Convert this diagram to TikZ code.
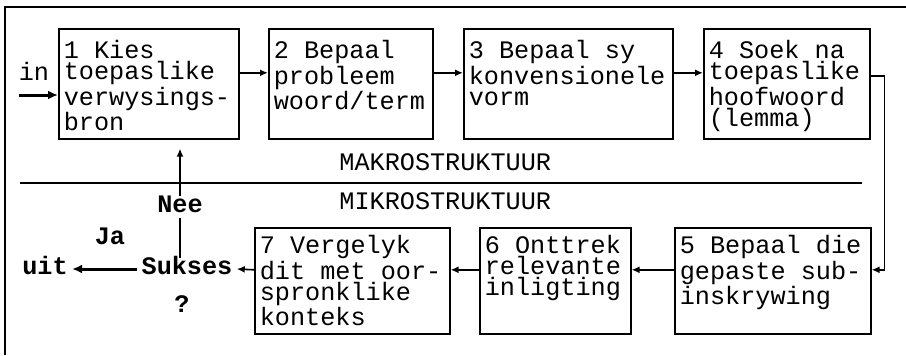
\documentclass[tikz,border=0pt]{standalone}
\usepackage{fontspec}
\newfontfamily\cour{Liberation Mono}
\usetikzlibrary{arrows.meta}
\tikzset{
  stepbox/.style={draw, line width=0.8pt, anchor=north west, align=flush left,
    inner xsep=2.5pt, inner ysep=2pt, text depth=38pt,
    font=\cour\fontsize{12.6}{10.5}\selectfont},
  toprow/.style={stepbox, text height=13pt},
  botrow/.style={stepbox, text height=11pt},
  tag/.style={anchor=base, inner sep=2pt, text height=6pt, text depth=1pt,
    font=\cour\bfseries\fontsize{12.6}{10.5}\selectfont},
  note/.style={tag, font=\cour\fontsize{12.6}{10.5}\selectfont},
  flow/.style={line width=0.8pt, -{Latex[length=4pt,width=3.5pt]}},
  bigflow/.style={line width=1.5pt, -{Latex[length=5pt,width=4.5pt]}},
}
\begin{document}
\begin{tikzpicture}[x=0.5pt, y=-0.5pt]
  \useasboundingbox (0,0) rectangle (906,355);
  \draw[line width=1pt] (5,355) -- (5,7) -- (906,7);
  % makrostruktuur
  \node[toprow, text width=85pt] (b1) at (58,28) {1 Kies\\toepaslike\\verwysings-\\bron};
  \node[toprow, text width=77pt] (b2) at (268,28) {2 Bepaal\\probleem\\woord/term};
  \node[toprow, text width=99.5pt] (b3) at (463,28) {3 Bepaal sy\\konvensionele\\vorm};
  \node[toprow, text width=78pt] (b4) at (703,28) {4 Soek na\\toepaslike\\hoofwoord\\(lemma)};
  % mikrostruktuur
  \node[botrow, text width=93pt] (b5) at (674,227) {5 Bepaal die\\gepaste sub-\\inskrywing};
  \node[botrow, text width=70.5pt] (b6) at (479,227) {6 Onttrek\\relevante\\inligting};
  \node[botrow, text width=92.5pt] (b7) at (254,227) {7 Vergelyk\\dit met oor-\\spronklike\\konteks};
  \node[note, anchor=base west] (makro) at (335,170) {MAKROSTRUKTUUR};
  \node[note, anchor=base west] (mikro) at (335,209) {MIKROSTRUKTUUR};
  \draw[line width=0.8pt] (20,183) -- (862,183);
  \node[note] (in) at (34,80) {in};
  \node[tag] (nee) at (180,212) {Nee};
  \node[tag] (ja) at (110,244) {Ja};
  \node[tag] (sukses) at (187,274) {Sukses};
  \node[tag] (vraag) at (182,312) {?};
  \node[tag] (uit) at (45,274) {uit};
  \coordinate (start) at (19,95);
  \draw[bigflow] (start) -- (b1.west |- start);
  \draw[flow] ([yshift=5.5pt]b1.east) -- ([yshift=5.5pt]b2.west);
  \draw[flow] ([yshift=5.5pt]b2.east) -- ([yshift=5.5pt]b3.west);
  \draw[flow] ([yshift=5.5pt]b3.east) -- ([yshift=5.5pt]b4.west);
  \draw[flow] ([yshift=4pt]b4.east) -- ++(14,0) |- ([yshift=5.5pt]b5.east);
  \draw[flow] ([yshift=5.5pt]b5.west) -- ([yshift=5.5pt]b6.east);
  \draw[flow] ([yshift=5.5pt]b6.west) -- ([yshift=5.5pt]b7.east);
  \draw[flow] ([yshift=5.5pt]b7.west) -- (sukses.east);
  \draw[bigflow] (sukses.west) -- (uit.east);
  \draw[line width=0.8pt] (nee.south) -- (nee.south |- sukses.north);
  \draw[flow, shorten >=4.5pt] (nee.north) -- (nee.north |- b1.south);
\end{tikzpicture}
\end{document}
